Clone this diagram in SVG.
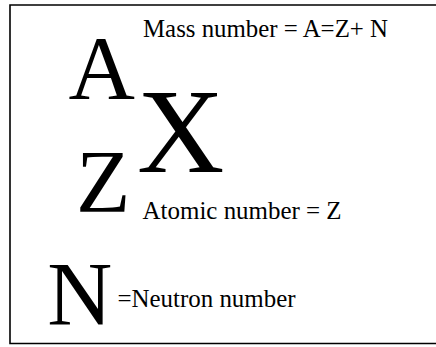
<svg xmlns="http://www.w3.org/2000/svg" width="436" height="347" viewBox="0 0 436 347">
<style>
text{font-family:"Liberation Serif","Times New Roman",Times,Tinos,"Nimbus Roman","DejaVu Serif",serif;fill:#000}
.s{font-size:24.8px}
</style>
<rect x="0" y="0" width="436" height="347" fill="#fff"/>
<path d="M440 5H10V343.5H440" fill="none" stroke="#000" stroke-width="1.6"/>
<g id="symbol">
<text x="68.6" y="99" font-size="92">A</text>
<text x="137" y="171.7" font-size="121">X</text>
<text x="76" y="211" font-size="89">Z</text>
</g>
<g id="mass">
<text class="s" x="143" y="37" textLength="245" lengthAdjust="spacingAndGlyphs">Mass number = A=Z+ N</text>
</g>
<g id="atomic">
<text class="s" x="142.6" y="218.5" textLength="199" lengthAdjust="spacingAndGlyphs">Atomic number = Z</text>
</g>
<g id="neutron">
<text x="47.2" y="325" font-size="90">N</text>
<text class="s" x="117.5" y="306.5" textLength="178" lengthAdjust="spacingAndGlyphs">=Neutron number</text>
</g>
</svg>
